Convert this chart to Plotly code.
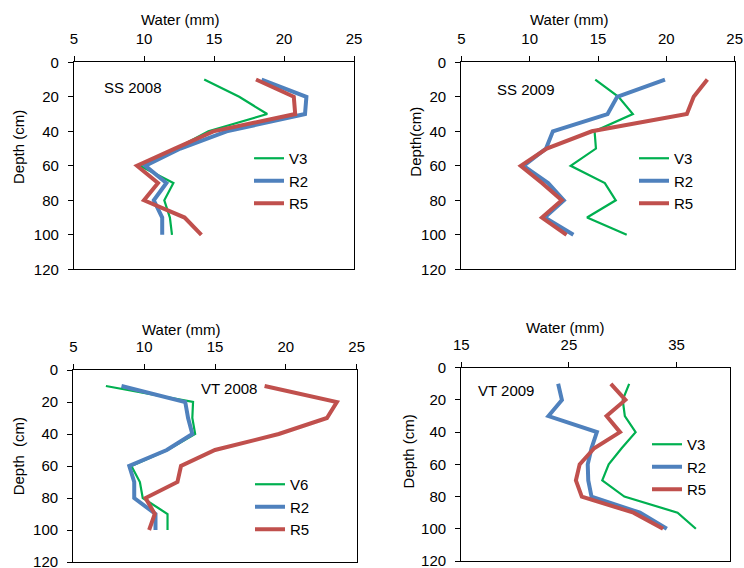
import plotly.graph_objects as go

# ---------------- data ----------------
depth = [10, 20, 30, 40, 50, 60, 70, 80, 90, 100]

ss2008_v3 = [14.3, 16.8, 18.8, 14.6, 12.3, 9.7, 12.1, 11.45, 11.85, 12.0]
ss2008_r2 = [18.4, 21.6, 21.5, 15.9, 12.6, 10.1, 11.6, 10.7, 11.3, 11.3]
ss2008_r5 = [18.0, 20.7, 20.8, 14.95, 12.2, 9.5, 11.0, 10.0, 12.9, 14.1]

ss2009_v3 = [14.8, 16.5, 17.55, 14.75, 14.85, 13.0, 15.5, 16.3, 14.2, 17.1]
ss2009_r2 = [19.9, 16.4, 15.7, 11.7, 11.2, 9.55, 11.35, 12.5, 11.1, 13.2]
ss2009_r5 = [23.0, 22.0, 21.5, 14.55, 11.25, 9.35, 10.9, 12.35, 10.9, 12.7]

vt2008_v6 = [7.3, 13.45, 13.4, 13.6, 11.65, 9.1, 9.7, 9.9, 11.65, 11.65]
vt2008_r2 = [8.4, 12.9, 13.1, 13.4, 11.6, 8.95, 9.3, 9.3, 10.8, 10.8]
vt2008_r5 = [18.5, 23.6, 22.9, 19.5, 15.0, 12.6, 12.35, 10.1, 10.75, 10.35]

vt2009_v3 = [30.6, 30.0, 30.2, 31.2, 29.9, 28.7, 28.1, 30.15, 35.1, 36.8]
vt2009_r2 = [24.0, 24.35, 23.1, 27.6, 27.1, 26.75, 26.8, 27.1, 31.6, 34.1]
vt2009_r5 = [28.9, 30.25, 28.5, 29.75, 27.35, 26.0, 25.65, 26.2, 31.0, 33.75]

panel_titles = ["SS 2008", "SS 2009", "VT 2008", "VT 2009"]
x_title = "Water (mm)"
y_titles = ["Depth (cm)", "Depth(cm)", "Depth  (cm)", "Depth (cm)"]
depth_ticks = [0, 20, 40, 60, 80, 100, 120]

panels = [
    (ss2008_v3, ss2008_r2, ss2008_r5, ["V3", "R2", "R5"]),
    (ss2009_v3, ss2009_r2, ss2009_r5, ["V3", "R2", "R5"]),
    (vt2008_v6, vt2008_r2, vt2008_r5, ["V6", "R2", "R5"]),
    (vt2009_v3, vt2009_r2, vt2009_r5, ["V3", "R2", "R5"]),
]

# ---------------- style ----------------
W, H = 744, 568
FONT = "Liberation Sans, Arial, sans-serif"
GREEN, BLUE, RED = "#00B050", "#4F81BD", "#C0504D"
colors = [GREEN, BLUE, RED]
widths = [2.2, 4, 4]

# plot-area pixel boxes (left, right, top, bottom)
boxes = [
    (74, 354, 62.3, 269.3),
    (461.3, 734.7, 62.3, 269.3),
    (73.3, 356.7, 370, 562),
    (461.3, 730.3, 367.7, 561),
]
x_ranges = [[5, 25], [5, 25], [5, 25], [15, 40]]
x_dticks = [5, 5, 5, 10]
x_tick0 = [5, 5, 5, 15]
label_pos = [(7.0, 14.5), (7.5, 15.6), (13.85, 11.5), (16.4, 13.9)]
xtitle_pos = [(180, 20), (569.5, 20), (181.7, 329.3), (565.3, 327.3)]
ytitle_pos = [(18, 147), (414.7, 142), (18.3, 456), (408.7, 451.7)]
legend_pos = [(249, 142), (634, 142), (250, 468), (647, 428)]


def px(x):
    return x / W


def py(y):
    return 1 - y / H


fig = go.Figure()
annotations = []
layout = dict(
    width=W, height=H,
    margin=dict(l=0, r=0, t=0, b=0, autoexpand=False),
    paper_bgcolor="white", plot_bgcolor="white",
    font=dict(family=FONT, size=15, color="black"),
    showlegend=True,
)

for i, (a, b, c, names) in enumerate(panels):
    n = i + 1
    xa = "x" if n == 1 else f"x{n}"
    ya = "y" if n == 1 else f"y{n}"
    lg = "legend" if n == 1 else f"legend{n}"
    for k, (vals, name) in enumerate(zip([a, b, c], names)):
        fig.add_trace(go.Scatter(
            x=vals, y=depth, mode="lines", name=name,
            line=dict(color=colors[k], width=widths[k]),
            xaxis=xa, yaxis=ya, legend=lg, legendgroup=f"{n}{name}",
            showlegend=True,
        ))
    l, r, t, btm = boxes[i]
    axis_common = dict(
        showline=True, linecolor="black", linewidth=1.3, mirror=True,
        showgrid=False, zeroline=False, ticks="outside", ticklen=5,
        tickwidth=1.3, tickcolor="black", automargin=False,
        ticklabeloverflow="allow",
        tickfont=dict(family=FONT, size=15, color="black"),
    )
    layout["xaxis" if n == 1 else f"xaxis{n}"] = dict(
        axis_common, domain=[px(l), px(r)], anchor=ya, side="top",
        range=x_ranges[i], tickmode="linear", tick0=x_tick0[i], dtick=x_dticks[i],
        ticklabelstandoff=6,
    )
    layout["yaxis" if n == 1 else f"yaxis{n}"] = dict(
        axis_common, domain=[py(btm), py(t)], anchor=xa,
        range=[120, 0], tickmode="array", tickvals=depth_ticks,
        ticklabelstandoff=6,
    )
    lx, ly = label_pos[i]
    annotations.append(dict(
        x=lx, y=ly, xref=xa, yref=ya, text=panel_titles[i], showarrow=False,
        xanchor="left", yanchor="middle", font=dict(family=FONT, size=15),
    ))
    tx, ty = xtitle_pos[i]
    annotations.append(dict(
        x=px(tx), y=py(ty), xref="paper", yref="paper", text=x_title,
        showarrow=False, xanchor="center", yanchor="middle",
        font=dict(family=FONT, size=15),
    ))
    yx, yy = ytitle_pos[i]
    annotations.append(dict(
        x=px(yx), y=py(yy), xref="paper", yref="paper", text=y_titles[i],
        showarrow=False, xanchor="center", yanchor="middle", textangle=-90,
        font=dict(family=FONT, size=15),
    ))
    gx, gy = legend_pos[i]
    layout[lg] = dict(
        x=px(gx), y=py(gy), xanchor="left", yanchor="top",
        bgcolor="rgba(0,0,0,0)", borderwidth=0,
        font=dict(family=FONT, size=15, color="black"),
        traceorder="grouped", tracegroupgap=0,
    )

layout["annotations"] = annotations
fig.update_layout(**layout)
fig.write_html(
    "out.html",
    config={"displayModeBar": False},
    post_script="document.body.style.margin='0';document.body.style.padding='0';",
)
